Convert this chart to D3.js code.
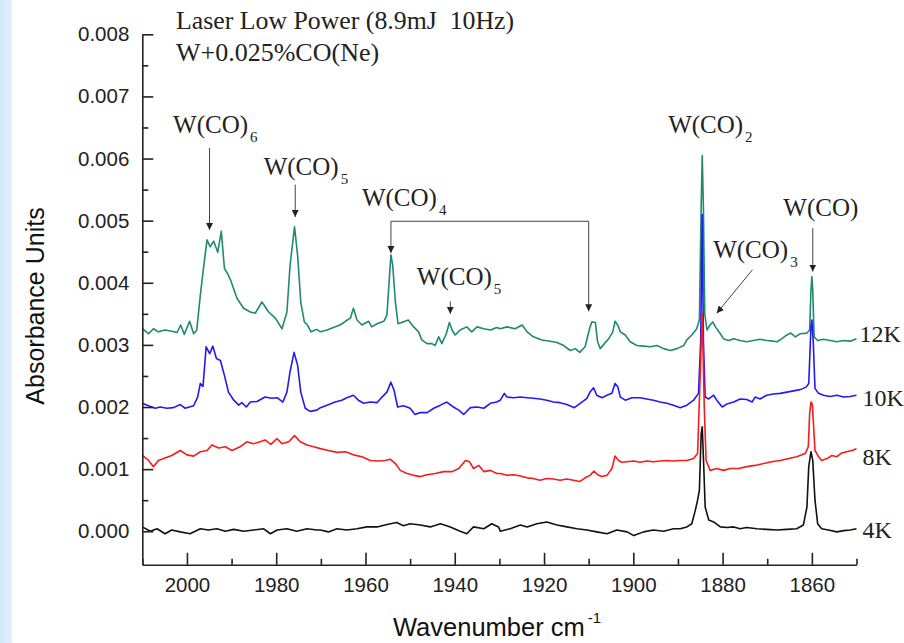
<!DOCTYPE html>
<html>
<head>
<meta charset="utf-8">
<script src="https://cdn.jsdelivr.net/npm/d3@7"></script>
<style>
  html, body { margin: 0; padding: 0; background: #ffffff; }
  svg { display: block; }
</style>
</head>
<body>
<svg id="chart" width="904" height="643"></svg>
<script>
// FTIR spectra of W + 0.025% CO in neon, [wavenumber cm-1, absorbance]
const spec12K = [
  [2010.0,0.00326],[2008.6,0.00318],[2007.5,0.00326],[2006.4,0.00321],[2004.9,0.00324],[2003.4,0.00322],
  [2002.2,0.00320],[2001.4,0.00332],[2000.6,0.00317],[1999.4,0.00338],[1998.5,0.00318],[1997.8,0.00324],
  [1997.0,0.00380],[1996.3,0.00423],[1995.5,0.00469],[1994.8,0.00458],[1994.0,0.00467],[1993.1,0.00449],
  [1992.3,0.00483],[1991.6,0.00423],[1990.9,0.00415],[1990.2,0.00404],[1988.8,0.00375],[1987.3,0.00359],
  [1985.8,0.00353],[1984.7,0.00351],[1983.2,0.00369],[1981.7,0.00353],[1980.2,0.00343],[1978.7,0.00326],
  [1977.6,0.00353],[1976.9,0.00428],[1975.9,0.00490],[1975.2,0.00444],[1974.5,0.00369],[1973.7,0.00337],
  [1973.0,0.00332],[1972.2,0.00321],[1970.9,0.00325],
  [1970.1,0.00321],[1968.6,0.00324],[1967.2,0.00328],[1965.7,0.00332],[1964.5,0.00338],[1963.4,0.00343],
  [1962.7,0.00359],[1961.9,0.00340],[1960.8,0.00332],[1959.3,0.00338],[1958.6,0.00329],[1957.4,0.00334],
  [1955.9,0.00338],[1955.2,0.00348],[1954.7,0.00402],[1954.3,0.00445],[1953.9,0.00428],[1953.3,0.00369],
  [1952.7,0.00334],[1951.6,0.00337],[1950.4,0.00340],[1949.2,0.00329],[1948.1,0.00321],[1947.4,0.00308],
  [1946.2,0.00302],[1945.1,0.00302],[1944.4,0.00299],[1943.6,0.00313],[1942.9,0.00302],[1941.9,0.00318],
  [1941.2,0.00336],[1940.6,0.00324],[1939.9,0.00316],[1938.8,0.00324],[1937.3,0.00329],[1936.2,0.00321],
  [1935.0,0.00329],[1933.5,0.00326],[1932.0,0.00324],[1930.6,0.00328],
  [1929.8,0.00326],[1928.3,0.00329],[1926.5,0.00326],[1924.9,0.00332],[1923.8,0.00321],[1922.4,0.00313],
  [1920.5,0.00308],[1918.6,0.00306],[1917.1,0.00304],[1915.6,0.00299],[1914.1,0.00291],[1913.0,0.00294],
  [1912.0,0.00288],[1910.8,0.00297],[1909.8,0.00326],[1909.3,0.00337],[1908.5,0.00336],[1908.0,0.00305],
  [1907.4,0.00294],[1906.5,0.00302],[1905.5,0.00310],[1904.6,0.00321],[1904.1,0.00338],[1903.5,0.00332],
  [1902.9,0.00321],[1901.8,0.00316],[1900.7,0.00305],[1899.2,0.00299],[1897.7,0.00298],[1896.2,0.00297],
  [1894.7,0.00299],[1893.2,0.00294],[1891.7,0.00291],[1890.2,0.00294],[1888.7,0.00299],
  [1888.0,0.00308],[1886.9,0.00316],[1885.8,0.00326],[1885.2,0.00340],[1884.8,0.00522],[1884.56,0.00605],
  [1884.3,0.00522],[1884.0,0.00350],[1883.5,0.00324],[1882.8,0.00332],[1882.2,0.00337],[1881.6,0.00329],
  [1881.1,0.00324],[1880.5,0.00318],[1879.8,0.00310],[1878.7,0.00307],[1877.5,0.00310],[1876.1,0.00307],
  [1874.6,0.00305],[1873.1,0.00307],[1871.6,0.00309],[1870.1,0.00307],[1868.6,0.00306],[1867.8,0.00305],
  [1866.7,0.00310],[1865.6,0.00316],[1864.7,0.00319],[1863.7,0.00313],[1862.6,0.00318],[1861.1,0.00319],
  [1860.5,0.00324],[1860.2,0.00388],[1860.0,0.00410],[1859.8,0.00388],[1859.5,0.00313],[1858.7,0.00307],
  [1857.4,0.00309],[1855.9,0.00307],[1854.4,0.00305],[1852.9,0.00307],[1851.4,0.00306],[1850.0,0.00310]
];

const spec10K = [
  [2010.0,0.00206],[2008.6,0.00202],[2007.1,0.00198],[2006.0,0.00200],[2004.5,0.00198],[2003.0,0.00199],
  [2001.5,0.00204],[2000.4,0.00198],[1998.5,0.00202],[1997.6,0.00216],[1997.0,0.00238],[1996.4,0.00233],
  [1995.7,0.00297],[1994.9,0.00286],[1994.2,0.00298],[1993.4,0.00278],[1992.5,0.00275],[1991.6,0.00251],
  [1990.7,0.00224],[1989.5,0.00211],[1988.4,0.00203],[1987.7,0.00207],[1986.7,0.00200],[1985.8,0.00208],
  [1984.3,0.00209],[1982.5,0.00216],[1981.0,0.00214],[1979.8,0.00215],[1978.5,0.00208],[1977.6,0.00224],
  [1976.9,0.00257],[1976.0,0.00288],[1975.2,0.00267],[1974.5,0.00224],[1973.5,0.00198],[1972.4,0.00193],
  [1970.9,0.00195],
  [1970.1,0.00199],[1968.6,0.00203],[1966.8,0.00208],[1965.3,0.00211],[1964.2,0.00215],[1962.7,0.00219],
  [1961.6,0.00211],[1960.4,0.00206],[1958.9,0.00208],[1957.4,0.00207],[1956.3,0.00216],[1955.2,0.00224],
  [1954.3,0.00240],[1953.6,0.00227],[1952.8,0.00200],[1951.5,0.00202],[1950.0,0.00198],[1948.9,0.00188],
  [1947.7,0.00191],[1946.2,0.00191],[1944.7,0.00198],[1943.2,0.00203],[1941.8,0.00208],[1940.3,0.00200],
  [1939.1,0.00195],[1938.0,0.00188],[1936.5,0.00199],[1935.0,0.00200],[1933.5,0.00198],[1932.0,0.00206],
  [1930.6,0.00208],
  [1929.8,0.00211],[1928.9,0.00222],[1928.3,0.00216],[1926.8,0.00215],[1925.3,0.00216],[1923.8,0.00215],
  [1922.4,0.00214],[1920.9,0.00213],[1919.4,0.00211],[1917.9,0.00208],[1916.4,0.00207],[1914.9,0.00204],
  [1913.2,0.00199],[1911.9,0.00206],[1910.4,0.00214],[1909.7,0.00224],[1908.9,0.00231],[1908.2,0.00219],
  [1907.0,0.00215],[1905.9,0.00219],[1904.8,0.00222],[1904.1,0.00238],[1903.5,0.00233],[1902.9,0.00216],
  [1901.8,0.00211],[1900.3,0.00215],[1898.5,0.00215],[1897.0,0.00213],[1895.5,0.00211],[1894.0,0.00208],
  [1892.5,0.00206],[1891.0,0.00203],[1889.5,0.00199],
  [1888.0,0.00203],[1886.5,0.00211],[1885.4,0.00222],[1884.9,0.00307],[1884.56,0.00510],[1884.3,0.00307],
  [1883.9,0.00216],[1883.1,0.00213],[1882.0,0.00219],[1881.3,0.00211],[1880.1,0.00200],[1879.0,0.00205],
  [1877.5,0.00208],[1876.1,0.00213],[1874.6,0.00212],[1873.4,0.00208],[1872.7,0.00216],[1871.6,0.00213],
  [1870.1,0.00219],[1868.6,0.00221],[1867.1,0.00222],[1865.6,0.00224],[1864.1,0.00226],[1862.6,0.00228],
  [1861.3,0.00232],[1860.7,0.00238],[1860.2,0.00329],[1860.0,0.00340],[1859.7,0.00307],[1859.3,0.00230],
  [1858.5,0.00222],[1857.4,0.00219],[1855.9,0.00217],[1854.4,0.00219],[1852.9,0.00216],[1851.4,0.00217],
  [1850.0,0.00219]
];

const spec8K = [
  [2010.0,0.00122],[2008.6,0.00114],[2007.5,0.00104],[2006.4,0.00114],[2004.9,0.00118],[2003.4,0.00122],
  [2001.5,0.00130],[2000.0,0.00123],[1998.5,0.00121],[1997.0,0.00128],[1995.5,0.00130],[1994.4,0.00139],
  [1992.9,0.00134],[1991.4,0.00136],[1989.9,0.00130],[1988.1,0.00136],[1986.6,0.00144],[1985.1,0.00141],
  [1983.6,0.00144],[1982.5,0.00147],[1981.2,0.00140],[1979.8,0.00149],[1978.7,0.00141],[1977.2,0.00144],
  [1975.9,0.00154],[1974.6,0.00144],[1973.1,0.00139],[1971.6,0.00136],
  [1970.1,0.00133],[1968.3,0.00130],[1966.4,0.00127],[1964.5,0.00128],[1962.7,0.00123],[1960.8,0.00120],
  [1958.9,0.00114],[1957.1,0.00113],[1955.6,0.00114],[1954.5,0.00116],[1953.3,0.00109],[1952.2,0.00098],
  [1950.7,0.00093],[1949.2,0.00090],[1947.7,0.00088],[1946.2,0.00091],[1944.4,0.00093],[1942.5,0.00096],
  [1940.6,0.00096],[1939.1,0.00101],[1937.6,0.00114],[1936.7,0.00112],[1935.8,0.00101],[1934.6,0.00106],
  [1933.5,0.00096],[1932.0,0.00098],[1930.6,0.00093],
  [1929.8,0.00093],[1928.3,0.00090],[1926.8,0.00091],[1925.3,0.00089],[1923.8,0.00086],[1922.4,0.00085],
  [1920.9,0.00082],[1919.4,0.00085],[1917.9,0.00084],[1916.4,0.00082],[1914.9,0.00084],[1913.4,0.00082],
  [1912.0,0.00080],[1910.8,0.00086],[1909.7,0.00090],[1908.8,0.00097],[1908.0,0.00091],[1907.1,0.00088],
  [1905.9,0.00090],[1904.8,0.00101],[1904.1,0.00121],[1903.3,0.00114],[1902.6,0.00111],[1901.4,0.00112],
  [1899.9,0.00113],[1898.5,0.00111],[1897.0,0.00113],[1895.5,0.00112],[1894.0,0.00113],[1892.5,0.00114],
  [1891.0,0.00113],[1889.5,0.00114],
  [1888.0,0.00114],[1886.5,0.00117],[1885.6,0.00125],[1885.0,0.00254],[1884.56,0.00350],[1884.1,0.00200],
  [1883.7,0.00114],[1882.8,0.00098],[1881.3,0.00101],[1879.8,0.00098],[1878.3,0.00101],[1876.4,0.00101],
  [1874.6,0.00104],[1872.7,0.00106],[1870.8,0.00109],[1869.0,0.00112],[1867.1,0.00114],[1865.2,0.00117],
  [1863.4,0.00120],[1861.5,0.00125],[1860.8,0.00136],[1860.5,0.00189],[1860.2,0.00208],[1859.9,0.00205],
  [1859.6,0.00168],[1859.3,0.00130],[1858.5,0.00120],[1857.8,0.00114],[1856.6,0.00117],[1855.5,0.00122],
  [1854.4,0.00120],[1853.3,0.00126],[1852.2,0.00128],[1851.0,0.00130],[1850.0,0.00133]
];

const spec4K = [
  [2010.0,0.00007],[2008.2,0.00000],[2006.7,0.00004],[2004.9,-0.00004],[2003.4,0.00002],[2001.5,-0.00001],
  [1999.3,-0.00004],[1997.0,0.00004],[1995.2,0.00002],[1993.3,0.00004],[1991.4,0.00000],[1989.5,0.00003],
  [1987.3,0.00000],[1985.1,0.00002],[1982.8,0.00004],[1981.3,-0.00004],[1979.8,0.00002],[1977.6,0.00004],
  [1975.4,0.00000],[1973.1,0.00004],[1970.9,0.00002],
  [1970.1,0.00002],[1968.3,-0.00001],[1966.4,0.00004],[1964.2,0.00002],[1961.9,0.00004],[1959.7,0.00007],
  [1957.4,0.00007],[1955.2,0.00011],[1953.0,0.00014],[1951.5,0.00009],[1950.0,0.00012],[1947.7,0.00010],
  [1945.5,0.00007],[1943.2,0.00012],[1941.0,0.00007],[1938.8,0.00000],[1937.3,-0.00004],[1935.8,0.00007],
  [1933.5,0.00004],[1931.7,0.00012],[1930.2,0.00007],
  [1929.8,0.00000],[1927.6,0.00004],[1925.3,0.00010],[1923.8,0.00007],[1921.6,0.00012],[1919.4,0.00015],
  [1917.1,0.00010],[1914.9,0.00007],[1912.6,0.00004],[1910.4,0.00002],[1908.2,-0.00001],[1905.9,-0.00004],
  [1903.7,0.00002],[1901.4,-0.00001],[1899.9,-0.00007],[1897.7,-0.00001],[1895.5,0.00002],[1893.2,0.00000],
  [1891.0,0.00004],
  [1889.5,0.00004],[1888.0,0.00007],[1886.9,0.00012],[1886.1,0.00034],[1885.6,0.00050],[1885.2,0.00066],
  [1884.8,0.00157],[1884.56,0.00168],[1884.3,0.00120],[1883.9,0.00039],[1883.1,0.00018],[1882.0,0.00015],
  [1880.5,0.00007],[1879.0,0.00006],[1877.5,0.00007],[1876.1,0.00004],[1874.6,0.00006],[1872.3,0.00004],
  [1870.1,0.00003],[1867.8,0.00002],[1865.6,0.00003],[1863.4,0.00004],[1861.9,0.00010],[1861.1,0.00039],
  [1860.7,0.00104],[1860.2,0.00128],[1859.8,0.00114],[1859.3,0.00050],[1858.7,0.00012],[1857.8,0.00004],
  [1856.3,0.00002],[1854.4,-0.00001],[1852.9,0.00001],[1851.4,0.00002],[1850.0,0.00004]
];

// temperature of each trace and where its label sits (absorbance)
const seriesNames = ["12K", "10K", "8K", "4K"];
const seriesLabelAt = [0.00305, 0.00202, 0.00106, -0.00011];

// axis ticks
const xTicksMajor = [2000, 1980, 1960, 1940, 1920, 1900, 1880, 1860];
const xTicksMinor = [2010, 1990, 1970, 1950, 1930, 1910, 1890, 1870, 1850];
const yTicksMajor = [0.000, 0.001, 0.002, 0.003, 0.004, 0.005, 0.006, 0.007, 0.008];
const yTicksMinor = [0.0005, 0.0015, 0.0025, 0.0035, 0.0045, 0.0055, 0.0065, 0.0075];

// band assignments: label anchor (wavenumber, absorbance)
const bandLabels = [
  { text: "W(CO)", sub: "6", wn: 2003.1, a: 0.00641 },
  { text: "W(CO)", sub: "5", wn: 1982.8, a: 0.00574 },
  { text: "W(CO)", sub: "4", wn: 1960.8, a: 0.00523 },
  { text: "W(CO)", sub: "5", wn: 1948.5, a: 0.00397 },
  { text: "W(CO)", sub: "2", wn: 1892.2, a: 0.00641 },
  { text: "W(CO)", sub: "3", wn: 1882.1, a: 0.00440 },
  { text: "W(CO)", sub: "",  wn: 1866.4, a: 0.00507 }
];
// pointer arrows: [from, to] in (wavenumber, absorbance)
const bandArrows = [
  [[1994.94, 0.00617], [1994.94, 0.00485]],
  [[1975.74, 0.00558], [1975.74, 0.00506]],
  [[1941.0, 0.00370], [1941.0, 0.00350]],
  [[1873.3, 0.00421], [1881.3, 0.00351]],
  [[1859.8, 0.00488], [1859.8, 0.00418]]
];
// W(CO)4 bracket joining its two bands
const bracketW4 = [[1954.3, 0.00448], [1954.3, 0.00499], [1910.0, 0.00499], [1910.0, 0.00354]];

const colors = { "12K": "#1f8b6c", "10K": "#2319f5", "8K": "#f71c1c", "4K": "#111111" };

const svg = d3.select("#chart");
const W = 904, H = 643;

// pale blue edge on the left
const defs = svg.append("defs");
const grad = defs.append("linearGradient").attr("id", "edge").attr("x1", 0).attr("x2", 1);
grad.append("stop").attr("offset", "0%").attr("stop-color", "#d3e6f9");
grad.append("stop").attr("offset", "100%").attr("stop-color", "#e4effb");
svg.append("rect").attr("width", W).attr("height", H).attr("fill", "#ffffff");
svg.append("rect").attr("x", 0).attr("y", 0).attr("width", 12).attr("height", H).attr("fill", "url(#edge)");

const x = d3.scaleLinear().domain([2010, 1850]).range([142.3, 856.5]);
const y = d3.scaleLinear().domain([-0.00054, 0.008]).range([564.8, 34.3]);

// arrowhead marker
defs.append("marker")
  .attr("id", "arrowhead")
  .attr("viewBox", "0 0 10 10")
  .attr("refX", 10).attr("refY", 5)
  .attr("markerUnits", "userSpaceOnUse")
  .attr("markerWidth", 7).attr("markerHeight", 10)
  .attr("orient", "auto-start-reverse")
  .append("path").attr("d", "M0,0 L10,5 L0,10 Z").attr("fill", "#222");

// spectra, coldest drawn last
const specs = [spec12K, spec10K, spec8K, spec4K];
const line = d3.line().x(d => x(d[0])).y(d => y(d[1]));
const plot = svg.append("g");
specs.forEach((s, i) => {
  plot.append("path")
    .datum(s)
    .attr("d", line)
    .attr("fill", "none")
    .attr("stroke", colors[seriesNames[i]])
    .attr("stroke-width", 1.6)
    .attr("stroke-linejoin", "round");
});

// axes (ticks point inward)
const axisColor = "#222";
const tickFont = "'Liberation Sans', Arial, sans-serif";
const gx = svg.append("g").attr("transform", `translate(0,${y.range()[0]})`)
  .call(d3.axisBottom(x).tickValues(xTicksMajor).tickSize(-12).tickSizeOuter(0).tickPadding(13).tickFormat(d3.format("d")));
const gxm = svg.append("g").attr("transform", `translate(0,${y.range()[0]})`)
  .call(d3.axisBottom(x).tickValues(xTicksMinor).tickSize(-6).tickSizeOuter(0).tickFormat(""));
const gy = svg.append("g").attr("transform", `translate(${x.range()[0]},0)`)
  .call(d3.axisLeft(y).tickValues(yTicksMajor).tickSize(-11).tickSizeOuter(0).tickPadding(13).tickFormat(d3.format(".3f")));
const gym = svg.append("g").attr("transform", `translate(${x.range()[0]},0)`)
  .call(d3.axisLeft(y).tickValues(yTicksMinor).tickSize(-6).tickSizeOuter(0).tickFormat(""));
gxm.select(".domain").remove();
gym.select(".domain").remove();
[gx, gxm, gy, gym].forEach(g => {
  g.selectAll("path, line").attr("stroke", axisColor).attr("stroke-width", 1.6);
  g.selectAll("text").attr("fill", "#222").style("font-family", tickFont).style("font-size", "20.5px");
});

// axis titles
svg.append("text")
  .attr("transform", "translate(44,306) rotate(-90)")
  .attr("text-anchor", "middle")
  .style("font-family", tickFont).style("font-size", "25px").attr("fill", "#111")
  .text("Absorbance Units");
const xt = svg.append("text")
  .attr("x", 393).attr("y", 636)
  .style("font-family", tickFont).style("font-size", "25.5px").attr("fill", "#111");
xt.append("tspan").text("Wavenumber cm");
xt.append("tspan").attr("dy", -13).attr("dx", 3).style("font-size", "15px").text("-1");

// header text
const serif = "'Liberation Serif', 'Times New Roman', serif";
svg.append("text").attr("x", 176).attr("y", 29)
  .style("font-family", serif).style("font-size", "25.8px").attr("fill", "#222")
  .text("Laser Low Power (8.9mJ\u00a0\u00a010Hz)");
svg.append("text").attr("x", 176).attr("y", 61)
  .style("font-family", serif).style("font-size", "26px").attr("fill", "#222")
  .text("W+0.025%CO(Ne)");

// trace labels
seriesNames.forEach((n, i) => {
  svg.append("text")
    .attr("x", x(1850) + (i === 0 ? 3 : 6)).attr("y", y(seriesLabelAt[i]))
    .style("font-family", serif).style("font-size", "24px").attr("fill", "#222")
    .text(n);
});

// band labels
bandLabels.forEach(b => {
  const t = svg.append("text").attr("x", x(b.wn)).attr("y", y(b.a))
    .style("font-family", serif).style("font-size", "25px").attr("fill", "#222");
  t.append("tspan").text(b.text);
  if (b.sub) t.append("tspan").attr("dy", 9).attr("dx", 2).style("font-size", "15px").text(b.sub);
});

// arrows
bandArrows.forEach(([p0, p1]) => {
  svg.append("line")
    .attr("x1", x(p0[0])).attr("y1", y(p0[1]))
    .attr("x2", x(p1[0])).attr("y2", y(p1[1]))
    .attr("stroke", "#444").attr("stroke-width", 1)
    .attr("marker-end", "url(#arrowhead)");
});
svg.append("path")
  .attr("d", d3.line().x(d => x(d[0])).y(d => y(d[1]))(bracketW4))
  .attr("fill", "none").attr("stroke", "#444").attr("stroke-width", 1)
  .attr("marker-start", "url(#arrowhead)")
  .attr("marker-end", "url(#arrowhead)");
</script>
</body>
</html>
